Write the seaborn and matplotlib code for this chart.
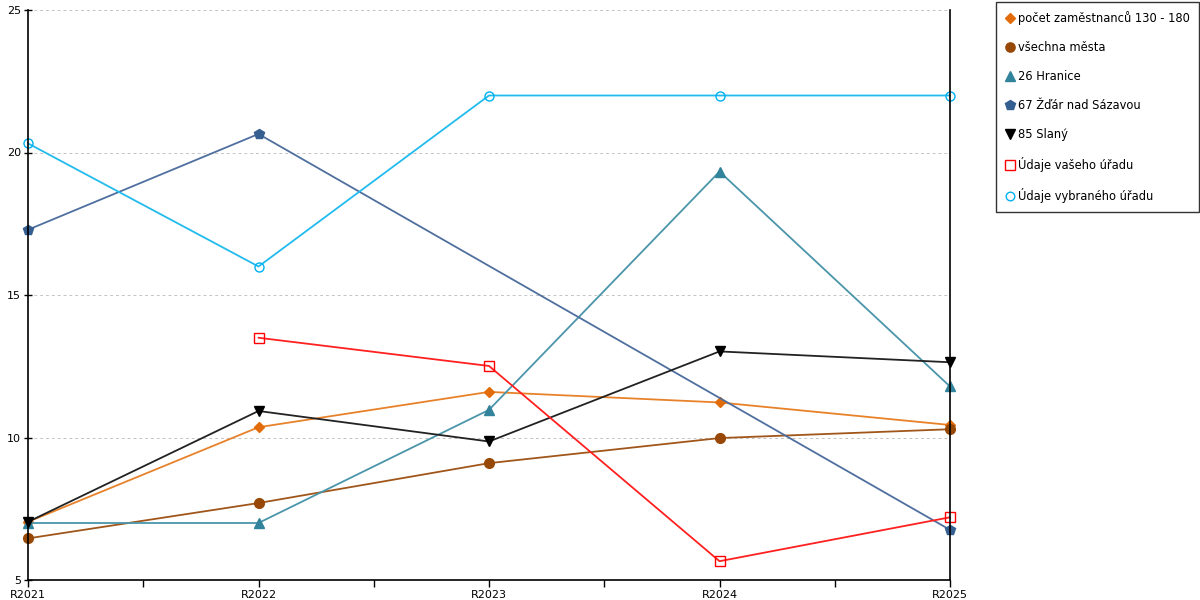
import numpy as np
import pandas as pd
import matplotlib
matplotlib.use("Agg")
import matplotlib.pyplot as plt
from matplotlib.lines import Line2D
from matplotlib.ticker import FixedLocator
import seaborn as sns

# data
years = ["R2021", "R2022", "R2023", "R2024", "R2025"]
pocet = [7.04, 10.36, 11.6, 11.23, 10.44]
mesta = [6.46, 7.7, 9.1, 9.98, 10.29]
hranice = [7.0, 7.0, 10.97, 19.33, 11.79]
zdar = [17.29, 20.65, np.nan, np.nan, 6.76]
slany = [7.04, 10.93, 9.86, 13.02, 12.64]
vas = [np.nan, 13.5, 12.51, 5.66, 7.2]
vybrany = [20.32, 16.0, 22.0, 22.0, 22.0]

labels = ["počet zaměstnanců 130 - 180", "všechna města", "26 Hranice",
          "67 Žďár nad Sázavou", "85 Slaný", "Údaje vašeho úřadu",
          "Údaje vybraného úřadu"]
values = [pocet, mesta, hranice, zdar, slany, vas, vybrany]

# style per series: line colour, marker, marker face, marker edge, marker size
styles = [
    ("#E8822A", "D", "#E36C0A", "#E36C0A", 5.5),
    ("#A0561A", "o", "#974806", "#974806", 7),
    ("#4A95AA", "^", "#31849B", "#31849B", 7.5),
    ("#4F6F9F", "p", "#365F91", "#365F91", 7.5),
    ("#222222", "v", "#000000", "#000000", 7.5),
    ("#FF2020", "s", "none", "#FF0000", 7),
    ("#22BBEE", "o", "none", "#00B0F0", 6.5),
]

sns.set_style("white")
plt.rcParams['font.family'] = ['DejaVu Sans']
plt.rcParams['text.color'] = 'black'
plt.rcParams['xtick.color'] = 'black'
plt.rcParams['ytick.color'] = 'black'
plt.rcParams['xtick.bottom'] = True
plt.rcParams['ytick.left'] = True

fig = plt.figure(figsize=(12, 6), dpi=100)
ax = fig.add_axes([28 / 1200, 20 / 600, (950 - 28) / 1200, (580 - 10) / 600])

for lab, vals, (lc, mk, mf, me, ms) in zip(labels, values, styles):
    df = pd.DataFrame({"x": np.arange(len(years)), "y": vals}).dropna()
    sns.lineplot(data=df, x="x", y="y", ax=ax, color=lc, linewidth=1.3,
                 marker=mk, markersize=ms, markerfacecolor=mf,
                 markeredgecolor=me, markeredgewidth=1.0, sort=False,
                 legend=False, clip_on=False)

ax.set_xlim(0, 4)
ax.set_ylim(5, 25)
ax.set_xticks(range(len(years)))
ax.set_xticklabels(years, fontsize=8)
ax.xaxis.set_minor_locator(FixedLocator([0.5, 1.5, 2.5, 3.5]))
ax.set_yticks([5, 10, 15, 20, 25])
ax.set_yticklabels(["5", "10", "15", "20", "25"], fontsize=8)
ax.tick_params(axis="x", which="both", direction="out", length=5, width=1,
               color="black", pad=2, bottom=True)
ax.tick_params(axis="y", direction="inout", length=6, width=1, color="black",
               pad=2, left=True)
ax.set_xlabel("")
ax.set_ylabel("")

for y in [10, 15, 20, 25]:
    ax.axhline(y, color="#C4C4C4", linestyle=(0, (3, 3)), linewidth=0.7, zorder=0)

ax.spines["top"].set_visible(False)
for s in ["left", "bottom", "right"]:
    ax.spines[s].set_color("black")
    ax.spines[s].set_linewidth(1.2)

handles = [Line2D([], [], linestyle="none", marker=mk, markersize=ms * 0.95,
                  markerfacecolor=mf, markeredgecolor=me, markeredgewidth=1.0)
           for (lc, mk, mf, me, ms) in styles]
leg = fig.legend(handles, labels, loc="upper left",
                 bbox_to_anchor=(996 / 1200, 1 - 2 / 600), fontsize=8.3,
                 frameon=True, fancybox=False, borderaxespad=0,
                 handlelength=0.8, handletextpad=0.3, labelspacing=1.38,
                 borderpad=0.8)
leg.get_frame().set_edgecolor("black")
leg.get_frame().set_linewidth(1)

fig.savefig("out.png", dpi=100)
